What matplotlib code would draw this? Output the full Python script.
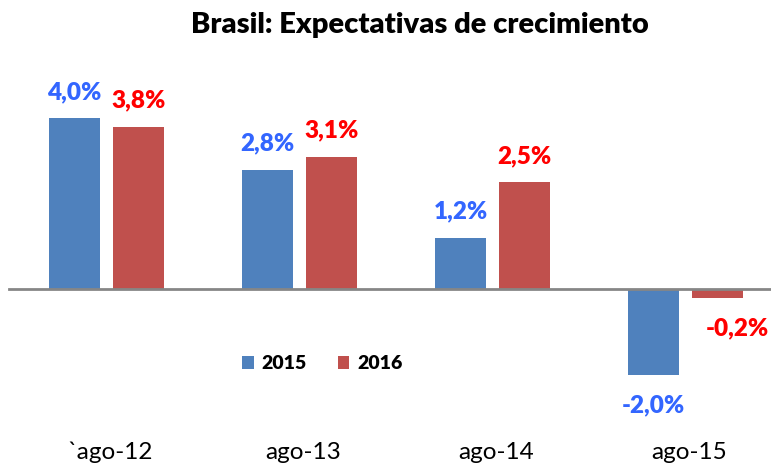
import matplotlib
matplotlib.use("Agg")
import matplotlib.pyplot as plt
import numpy as np

categories = ["`ago-12", "ago-13", "ago-14", "ago-15"]
series_names = ["2015", "2016"]
values_2015 = [4.0, 2.8, 1.2, -2.0]
values_2016 = [3.8, 3.1, 2.5, -0.2]

bar_colors = ["#4F81BD", "#C0504D"]
label_colors = ["#3366FF", "#FF0000"]

plt.rcParams["font.family"] = ["Lato", "DejaVu Sans"]

fig = plt.figure(figsize=(7.71, 4.63), dpi=100)
ax = fig.add_axes([0, 0, 1, 1])

x = np.arange(len(categories))
width = 0.264
offset = 0.166

for i, (vals, name) in enumerate(zip([values_2015, values_2016], series_names)):
    pos = x + (offset if i else -offset)
    bars = ax.bar(pos, vals, width, color=bar_colors[i], label=name, zorder=2)
    for b, v in zip(bars, vals):
        txt = "{:.1f}%".format(v).replace(".", ",")
        cx = b.get_x() + b.get_width() / 2
        if v >= 0:
            ax.annotate(txt, (cx, v), xytext=(0, 11), textcoords="offset points",
                        ha="center", va="bottom", fontsize=17.5, fontweight="heavy",
                        color=label_colors[i])
        else:
            nudge = 14 if abs(v) < 0.5 else 0
            ax.annotate(txt, (cx, v), xytext=(nudge, -22), textcoords="offset points",
                        ha="center", va="center", fontsize=17.5, fontweight="heavy",
                        color=label_colors[i])

ax.axhline(0, xmin=0.012, xmax=1, color="#868686", linewidth=2, zorder=3)

ax.set_xlim(-0.552, 3.443)
ax.set_ylim(-4.07, 6.77)
ax.axis("off")

for xi, cat in zip(x, categories):
    ax.text(xi + 0.02, -3.82, cat, ha="center", va="center", fontsize=17.5)

ax.text(0.545, 0.945, "Brasil: Expectativas de crecimiento", transform=ax.transAxes,
        ha="center", va="center", fontsize=21, fontweight="heavy")

leg = ax.legend(loc="center", bbox_to_anchor=(0.418, 0.214), ncol=2, frameon=False,
                handlelength=0.6, handleheight=0.6, handletextpad=0.4,
                columnspacing=1.6, prop={"weight": "heavy", "size": 14})

fig.savefig("out.png", dpi=100)
